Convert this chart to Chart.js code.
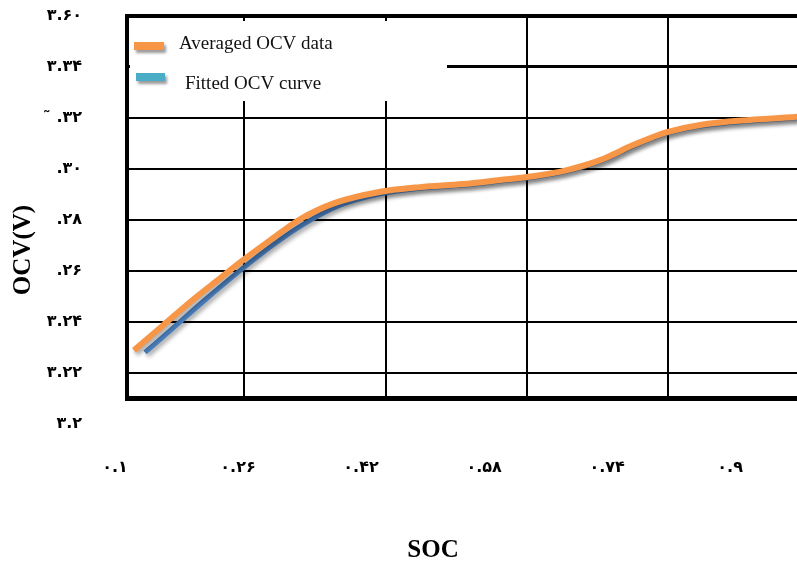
<!DOCTYPE html>
<html><head><meta charset="utf-8">
<script src="https://cdn.jsdelivr.net/npm/chart.js@4.4.1/dist/chart.umd.min.js"></script>
<style>html,body{margin:0;padding:0;background:#fff}#wrap{width:797px;height:562px;position:relative}</style>
</head><body><div id="wrap"><canvas id="c"></canvas></div>
<script>
// ---- data ----
const seriesNames = ['Averaged OCV data', 'Fitted OCV curve'];
const socAvg = [0.1247,0.1624,0.2002,0.2366,0.2665,0.3016,0.3407,0.3862,0.4421,0.4967,0.5527,0.6008,0.6437,0.6879,0.7309,0.7738,0.7998,0.8180,0.8610,0.9260,0.9872,0.99];
const ocvAvg = [3.2287,3.2385,3.2483,3.2570,3.2641,3.2719,3.2802,3.2866,3.2908,3.2928,3.2940,3.2956,3.2971,3.2995,3.3034,3.3093,3.3125,3.3144,3.3172,3.3192,3.3204,3.3205];
const socFit = [0.1390,0.1780,0.2132,0.2678,0.3081,0.3472,0.3927,0.4421,0.4967,0.5527,0.6008,0.6437,0.6879,0.7309,0.7738,0.7998,0.8180,0.8610,0.9260,0.99];
const ocvFit = [3.2279,3.2381,3.2475,3.2613,3.2707,3.2786,3.2857,3.2900,3.2924,3.2936,3.2952,3.2967,3.2991,3.3030,3.3089,3.3121,3.3140,3.3168,3.3188,3.3201];
const yTickValues = [3.20,3.22,3.24,3.26,3.28,3.30,3.32,3.34,3.36];
const yTickLabels = ['۳.۲','۳.۲۲','۳.۲۴','.۲۶','.۲۸','.۳۰','˜ .۳۲','۳.۳۴','۳.۶۰'];
const xTickValues = [0.1,0.26,0.42,0.58,0.74,0.9];
const xTickLabels = ['۰.۱','۰.۲۶','۰.۴۲','۰.۵۸','۰.۷۴','۰.۹'];
const xGridValues = [0.268,0.4525,0.636,0.8195];
const xTitle = 'SOC';
const yTitle = 'OCV(V)';

// ---- styles ----
const orange = '#F79646';
const blueLine = '#4A7EBB';
const legendColors = ['#F79646', '#4BACC6'];
const tickFont = {family: 'DejaVu Sans', size: 16, weight: 'bold'};
const serif = '"Liberation Serif", "Times New Roman", serif';
const clear = 'rgba(0,0,0,0)';

const toPts = (xs, ys) => xs.map((x, i) => ({x, y: ys[i]}));
const labelFor = (vals, labs, v) => { const i = vals.findIndex(t => Math.abs(t - v) < 1e-6); return i < 0 ? '' : labs[i]; };

const shadowPlugin = {
  id: 'lineShadow',
  beforeDatasetDraw(chart) {
    const ctx = chart.ctx;
    ctx.save();
    ctx.shadowColor = 'rgba(0,0,0,0.35)';
    ctx.shadowOffsetX = 2; ctx.shadowOffsetY = 3; ctx.shadowBlur = 4;
  },
  afterDatasetDraw(chart) { chart.ctx.restore(); }
};

const extrasPlugin = {
  id: 'extras',
  beforeDatasetsDraw(chart) {
    const {ctx, chartArea: a} = chart;
    ctx.save();
    ctx.fillStyle = '#fff';
    ctx.fillRect(a.left + 3, a.top + 5, 447 - a.left - 3, 80);
    const items = [
      {bx: 134, by: 42, bw: 30, tx: 179, ty: 44},
      {bx: 136, by: 73, bw: 29, tx: 185, ty: 84}
    ];
    items.forEach((it, i) => {
      ctx.save();
      ctx.shadowColor = 'rgba(0,0,0,0.4)';
      ctx.shadowOffsetX = 2; ctx.shadowOffsetY = 3; ctx.shadowBlur = 3;
      ctx.fillStyle = legendColors[i];
      ctx.fillRect(it.bx, it.by, it.bw, 8);
      ctx.restore();
      ctx.fillStyle = '#111';
      ctx.font = '19px ' + serif;
      ctx.textBaseline = 'middle';
      ctx.textAlign = 'left';
      ctx.fillText(chart.data.datasets[i].label, it.tx, it.ty);
    });
    ctx.restore();
  },
  afterDraw(chart) {
    const ctx = chart.ctx;
    ctx.save();
    ctx.fillStyle = '#000';
    ctx.font = 'bold 25px ' + serif;
    ctx.textAlign = 'center';
    ctx.textBaseline = 'middle';
    ctx.fillText(xTitle, 433, 551);
    ctx.translate(24, 250);
    ctx.rotate(-Math.PI / 2);
    ctx.fillText(yTitle, 0, 0);
    ctx.restore();
  }
};

new Chart(document.getElementById('c'), {
  type: 'line',
  data: {
    datasets: [
      {label: seriesNames[0], data: toPts(socAvg, ocvAvg), borderColor: orange, backgroundColor: legendColors[0],
       borderWidth: 6, pointRadius: 0, cubicInterpolationMode: 'monotone', fill: false},
      {label: seriesNames[1], data: toPts(socFit, ocvFit), borderColor: blueLine, backgroundColor: legendColors[1],
       borderWidth: 5, pointRadius: 0, cubicInterpolationMode: 'monotone', fill: false}
    ]
  },
  options: {
    responsive: true,
    maintainAspectRatio: false,
    animation: false,
    layout: {padding: {left: 0, top: 16, right: 0, bottom: 0}},
    plugins: {legend: {display: false}, tooltip: {enabled: false}},
    scales: {
      x: {
        type: 'linear', position: 'bottom', min: 0.1156, max: 0.987,
        afterBuildTicks: s => { s.ticks = xTickValues.map(v => ({value: v})); },
        afterFit: s => { s.height = 164; },
        grid: {display: false, drawTicks: true, tickLength: 60, tickColor: clear},
        border: {display: true, color: '#000', width: 5},
        ticks: {autoSkip: false, maxRotation: 0, padding: 0, color: '#000', font: tickFont,
                callback: v => labelFor(xTickValues, xTickLabels, v)}
      },
      xg: {
        type: 'linear', position: 'top', min: 0.1156, max: 0.987,
        afterBuildTicks: s => { s.ticks = xGridValues.map(v => ({value: v})); },
        afterFit: s => { s.height = 0; },
        grid: {display: true, drawTicks: false, color: '#000', lineWidth: 2},
        border: {display: false},
        ticks: {display: false, padding: 0}
      },
      y: {
        type: 'linear', min: 3.21, max: 3.36,
        afterBuildTicks: s => { s.ticks = yTickValues.map(v => ({value: v})); },
        afterFit: s => { s.width = 127; },
        grid: {drawTicks: true, tickLength: 45, tickColor: clear,
               color: c => (c.tick && c.tick.value < 3.205) ? clear : '#000',
               lineWidth: c => !c.tick ? 2 : (c.tick.value > 3.355 ? 4 : (Math.abs(c.tick.value - 3.34) < 1e-6 ? 3 : 2))},
        border: {display: true, color: '#000', width: 4},
        ticks: {autoSkip: false, padding: 0, color: '#000', font: tickFont,
                callback: v => labelFor(yTickValues, yTickLabels, v)}
      }
    }
  },
  plugins: [shadowPlugin, extrasPlugin]
});
</script>
</body></html>
